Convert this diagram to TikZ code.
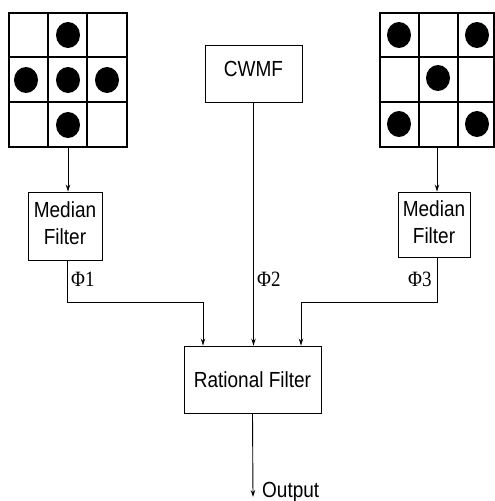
\documentclass[tikz,border=0pt]{standalone}
\usepackage{fontspec}
\usepackage{graphicx}
\setmainfont{Liberation Sans}
\newfontfamily\phifont{Liberation Serif}
\usetikzlibrary{arrows.meta}
\newcommand{\tl}[1]{\scalebox{1}[1.15]{#1}}
\begin{document}
\begin{tikzpicture}[x=1pt,y=-1pt,
  box/.style={draw, line width=0.9pt, inner sep=0pt},
  conn/.style={line width=0.9pt},
  arr/.style={conn, -{Stealth[length=7pt,width=4.5pt]}},
  gridline/.style={line width=1.3pt},
  gridbox/.style={draw, line width=1.3pt, inner sep=0pt, minimum width=118pt, minimum height=134pt},
  dot/.style={fill=black},
  lab/.style={font=\fontsize{19}{23.5}\selectfont},
  philab/.style={font=\phifont\fontsize{19}{22}\selectfont, inner sep=0pt, anchor=base west}]
\useasboundingbox (0,0) rectangle (495,501);

% left grid
\node[gridbox] (gridL) at (68,80) {};
\draw[gridline] (48,13) -- (48,147) (87,13) -- (87,147) (9,57) -- (127,57) (9,102) -- (127,102);
\fill[dot] (68,35) ellipse [x radius=12pt, y radius=13pt];
\fill[dot] (26,80) ellipse [x radius=12pt, y radius=13pt];
\fill[dot] (68,80) ellipse [x radius=12pt, y radius=13pt];
\fill[dot] (107,80) ellipse [x radius=12pt, y radius=13pt];
\fill[dot] (68,125) ellipse [x radius=12pt, y radius=13pt];

% right grid
\node[gridbox, minimum width=114pt] (gridR) at (437,80) {};
\draw[gridline] (419,13) -- (419,147) (458,13) -- (458,147) (380,57) -- (494,57) (380,102) -- (494,102);
\fill[dot] (399,35) ellipse [x radius=12pt, y radius=13pt];
\fill[dot] (477,35) ellipse [x radius=12pt, y radius=13pt];
\fill[dot] (438,78) ellipse [x radius=12pt, y radius=13pt];
\fill[dot] (399,124) ellipse [x radius=12pt, y radius=13pt];
\fill[dot] (477,124) ellipse [x radius=12pt, y radius=13pt];

% boxes
\node[box, minimum width=97pt, minimum height=57pt] (cwmf) at (253.5,73.5) {};
\node[lab, inner sep=0pt] (cwmft) at (253.5,69) {\tl{CWMF}};
\node[box, lab, minimum width=74pt, minimum height=68pt] (medL) at (65,226)
  {\tl{\begin{tabular}{@{}c@{}}Median\\Filter\end{tabular}}};
\node[box, lab, minimum width=72pt, minimum height=65pt] (medR) at (434,224.5)
  {\tl{\begin{tabular}{@{}c@{}}Median\\Filter\end{tabular}}};
\node[box, lab, minimum width=137pt, minimum height=67pt] (rat) at (252.5,379.5) {\tl{Rational Filter}};

% connectors
\draw[arr] (gridL.south) -- (gridL.south |- medL.north);
\draw[arr] (gridR.south) -- (gridR.south |- medR.north);
\draw[arr] (cwmf.south) -- (cwmf.south |- rat.north);
\draw[arr] ([xshift=2pt]medL.south) -- ++(0,42) -| ([xshift=-49.5pt]rat.north);
\draw[arr] ([xshift=3pt]medR.south) -- ++(0,45) -| ([xshift=48.5pt]rat.north);
\coordinate (out) at (253,497);
\draw[arr] (rat.south) -- (out);

% labels
\node[philab] (p1) at (71,286) {\tl{Φ1}};
\node[philab] (p2) at (257,286) {\tl{Φ2}};
\node[philab] (p3) at (408,286) {\tl{Φ3}};
\node[lab, anchor=base west, inner sep=0pt] (outlab) at (262,497) {\tl{Output}};
\end{tikzpicture}
\end{document}
